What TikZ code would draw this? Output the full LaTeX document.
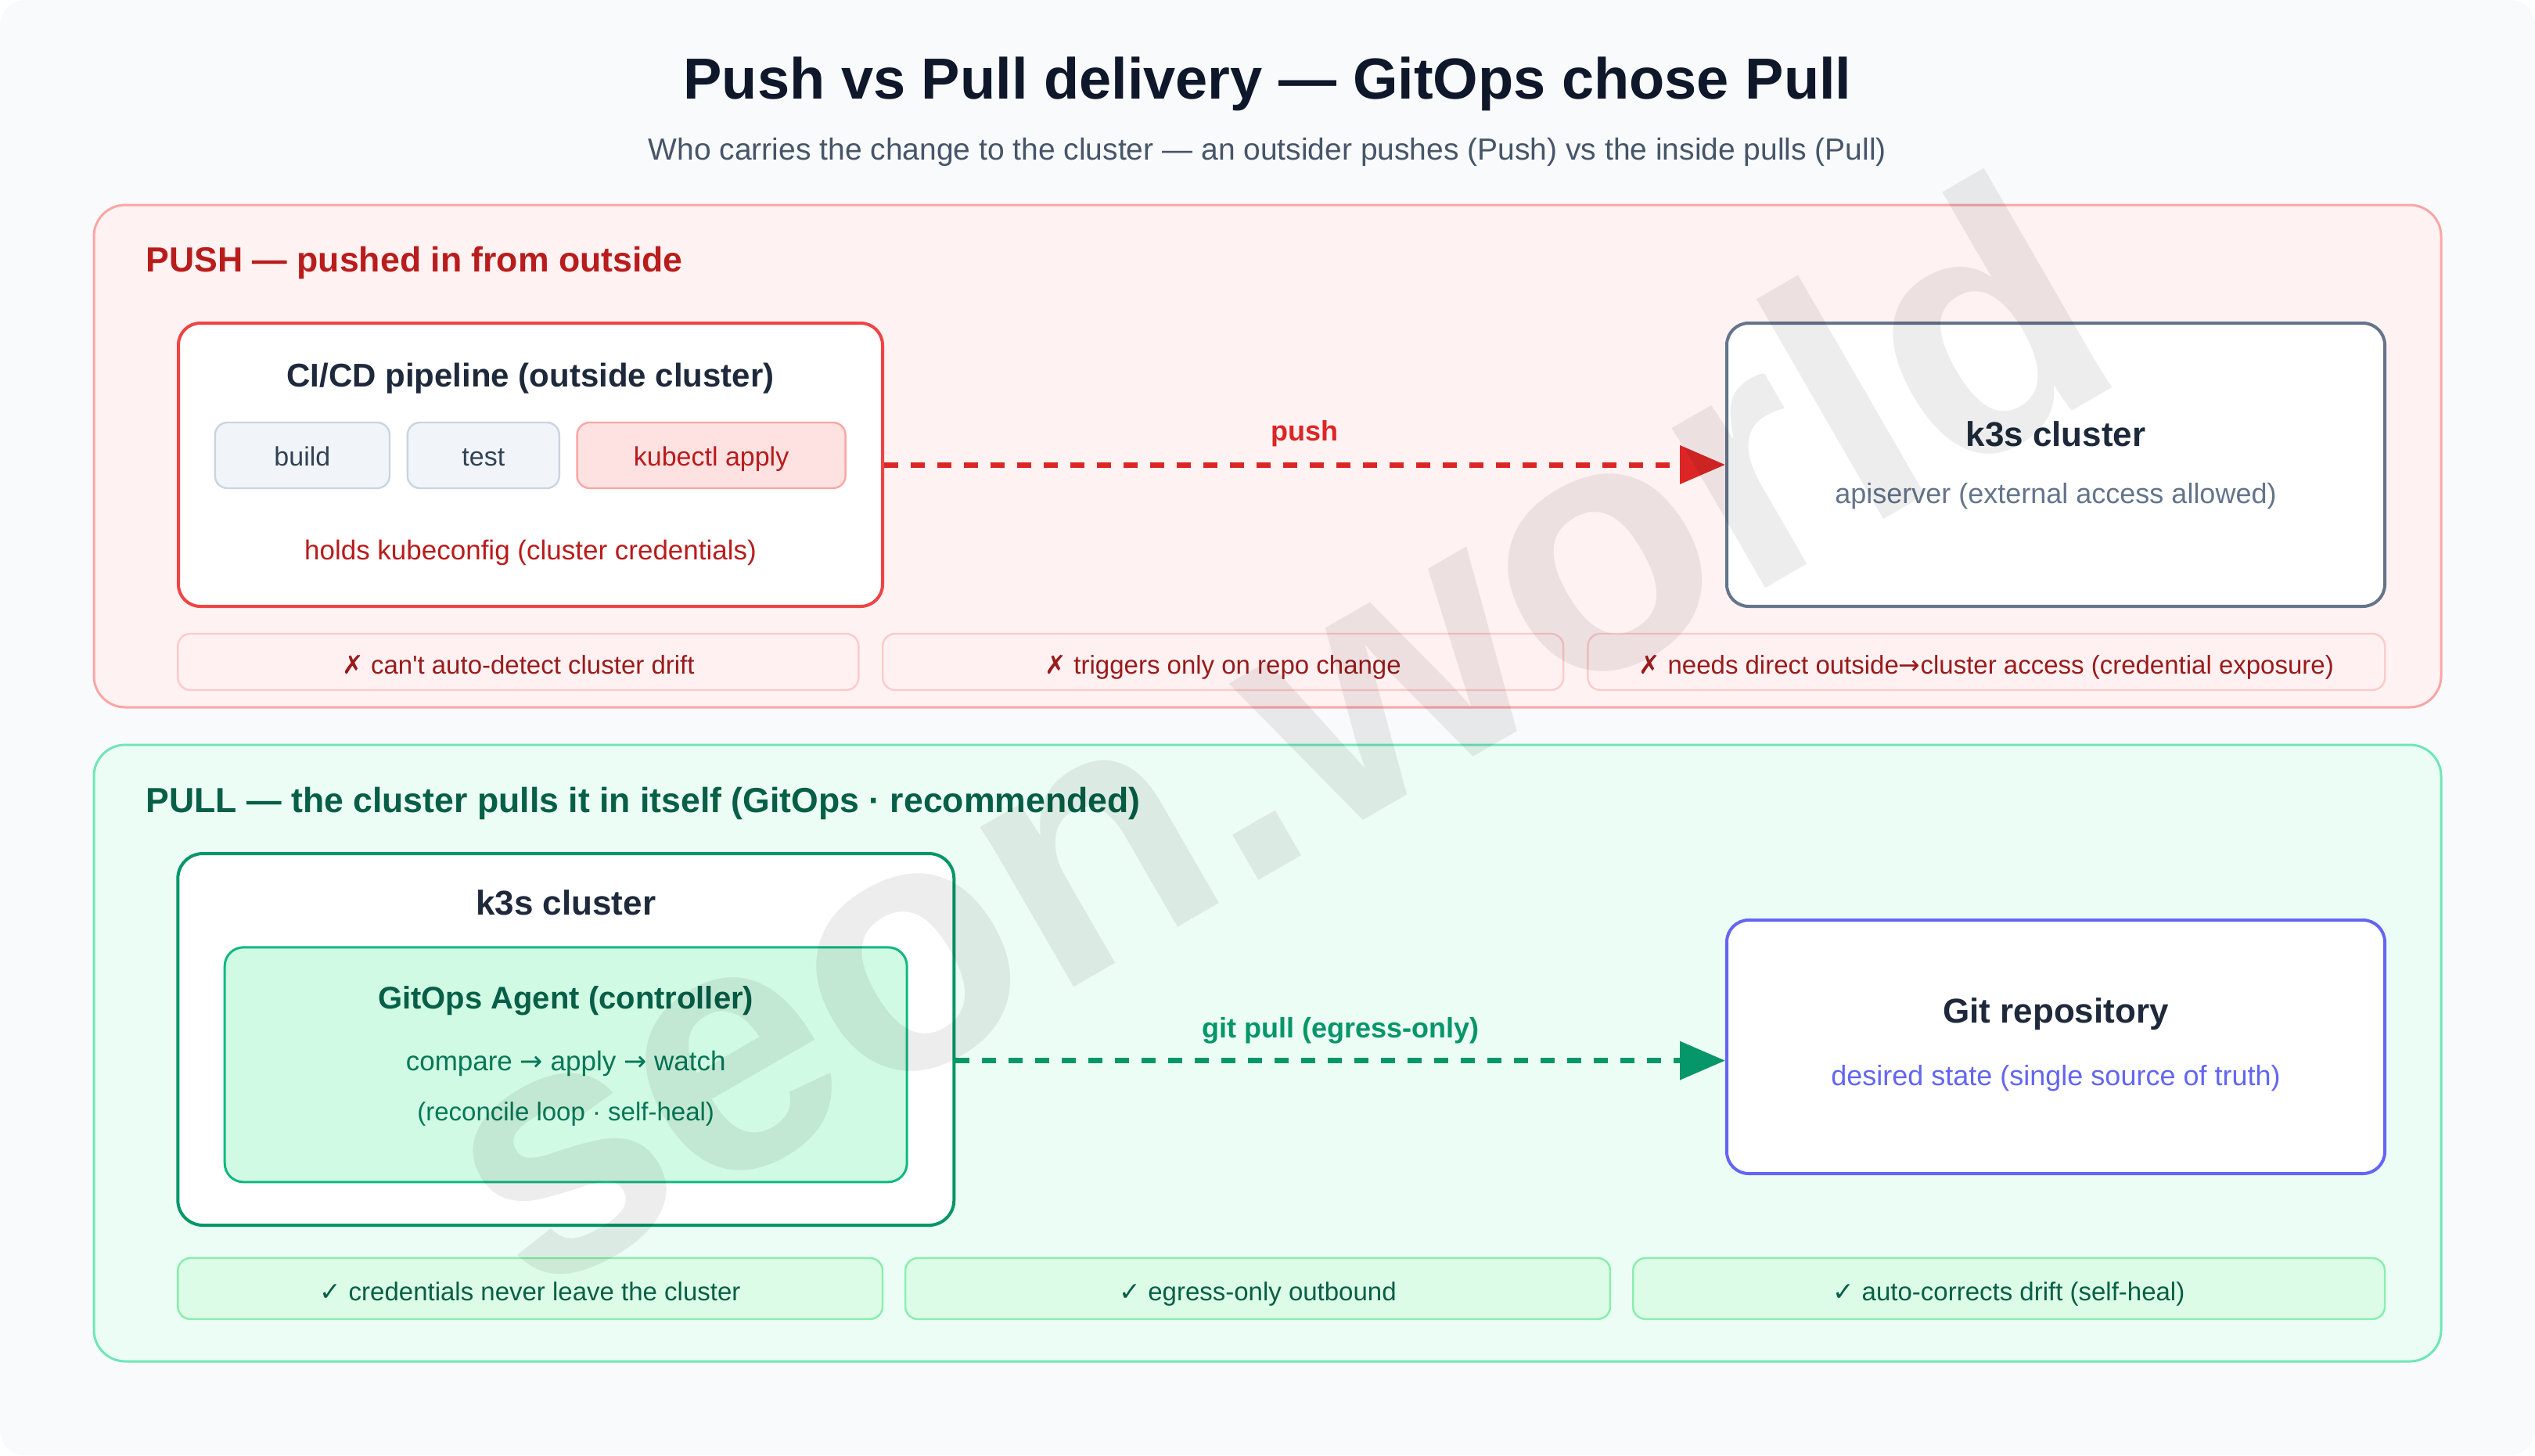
\documentclass[tikz,border=0pt]{standalone}
\usepackage{fontspec}
\setmainfont{Liberation Sans}[Ligatures=TeXOff]
\newfontfamily\glyphfont{DejaVu Sans}
\usepackage{tikz}
\usetikzlibrary{positioning,arrows.meta}
\definecolor{canvas}{HTML}{F8FAFC}
\definecolor{titleink}{HTML}{0F172A}
\definecolor{subink}{HTML}{475569}
\definecolor{ink}{HTML}{1E293B}
\definecolor{pushbg}{HTML}{FEF2F2}
\definecolor{pushline}{HTML}{FCA5A5}
\definecolor{pushhead}{HTML}{B91C1C}
\definecolor{cired}{HTML}{EF4444}
\definecolor{arrowred}{HTML}{DC2626}
\definecolor{stepfill}{HTML}{F1F5F9}
\definecolor{stepline}{HTML}{CBD5E1}
\definecolor{steptext}{HTML}{334155}
\definecolor{applyfill}{HTML}{FEE2E2}
\definecolor{k3sline}{HTML}{64748B}
\definecolor{nofill}{HTML}{FFF1F2}
\definecolor{noline}{HTML}{FECACA}
\definecolor{notext}{HTML}{991B1B}
\definecolor{pullbg}{HTML}{ECFDF5}
\definecolor{pullline}{HTML}{6EE7B7}
\definecolor{pullhead}{HTML}{065F46}
\definecolor{pullarrow}{HTML}{059669}
\definecolor{agentfill}{HTML}{D1FAE5}
\definecolor{agentline}{HTML}{10B981}
\definecolor{agenttext}{HTML}{047857}
\definecolor{gitline}{HTML}{6366F1}
\definecolor{okfill}{HTML}{DCFCE7}
\definecolor{okline}{HTML}{86EFAC}
\definecolor{oktext}{HTML}{065F46}
\newcommand{\fsz}[1]{\fontsize{#1}{#1}\selectfont}

\begin{document}
\begin{tikzpicture}[x=1pt, y=-1pt,
   panel/.style={draw, line width=1.5pt, rounded corners=20pt, inner sep=0pt},
   box/.style={draw, fill=white, line width=2pt, rounded corners=14pt, inner sep=0pt},
   stepbox/.style={draw=stepline, fill=stepfill, text=steptext, line width=1.2pt, outer sep=0pt,
                   rounded corners=8pt, minimum height=42pt, inner sep=0pt, font=\fsz{17},
                   text height=15pt, text depth=2pt},
   chip/.style={line width=1.2pt, rounded corners=8pt, inner sep=0pt, outer sep=0pt, font=\fsz{16.5},
                text height=18pt, text depth=3pt},
   head/.style={anchor=west, inner sep=0pt, font=\bfseries\fsz{22.3}},
   boxtitle/.style={inner sep=0pt, text=ink, font=\bfseries\fsz{22}},
   note/.style={inner sep=0pt, font=\fsz{18}},
   flowlabel/.style={inner sep=0pt, font=\bfseries\fsz{18}},
   flow/.style={line width=3.5pt, dash pattern=on 9pt off 8pt,
                -{Triangle[length=29pt,width=24pt]}}]
  \useasboundingbox (0,0) rectangle (1620,930);
  \fill[canvas, rounded corners=16pt] (0,0) rectangle (1620,930);

  \node[anchor=base, font=\bfseries\fsz{37}, text=titleink] (title) at (810,63)
    {Push vs Pull delivery — GitOps chose Pull};
  \node[anchor=base, font=\fsz{19.5}, text=subink] (subtitle) at (810,102)
    {Who carries the change to the cluster — an outsider pushes (Push) vs the inside pulls (Pull)};

  % push side
  \node[panel, fill=pushbg, draw=pushline, minimum width=1500pt, minimum height=321pt] (pushpanel) at (810,291.5) {};
  \node[head, text=pushhead] (pushhead) at (93,168) {PUSH — pushed in from outside};

  \node[box, draw=cired, minimum width=450pt, minimum height=181pt] (cicd) at (339,297) {};
  \node[boxtitle, font=\bfseries\fsz{21}] (cititle) at (339,242) {CI/CD pipeline (outside cluster)};
  \node[stepbox, minimum width=111.6pt] (build) at (193.2,291) {build};
  \node[stepbox, minimum width=97pt, right=11.4pt of build] (test) {test};
  \node[stepbox, minimum width=171.5pt, right=11.4pt of test,
        fill=applyfill, draw=pushline, text=pushhead] (apply) {kubectl apply};
  \node[note, text=pushhead, font=\fsz{17.5}] (creds) at (339,353) {holds kubeconfig (cluster credentials)};

  \node[box, draw=k3sline, minimum width=420.5pt, minimum height=181pt] (target) at (1313.75,297) {};
  \node[boxtitle] (targettitle) at (1313.75,277.5) {k3s cluster};
  \node[note, text=k3sline] (api) at (1313.75,317) {apiserver (external access allowed)};

  \draw[flow, color=arrowred] (cicd) -- node[flowlabel, above=10pt, text=arrowred] (pushlbl) {push} (target);

  \node[chip, fill=nofill, draw=noline, text=notext, minimum width=435pt, minimum height=36pt] (no1) at (331.2,423)
    {{\glyphfont ✗} can't auto-detect cluster drift};
  \node[chip, fill=nofill, draw=noline, text=notext, minimum width=435pt, minimum height=36pt, right=15.4pt of no1] (no2)
    {{\glyphfont ✗} triggers only on repo change};
  \node[chip, fill=nofill, draw=noline, text=notext, minimum width=509.4pt, minimum height=36pt, right=15.6pt of no2] (no3)
    {{\glyphfont ✗} needs direct outside{\glyphfont →}cluster access (credential exposure)};

  % pull side
  \node[panel, fill=pullbg, draw=pullline, minimum width=1500pt, minimum height=394pt] (pullpanel) at (810,673) {};
  \node[head, text=pullhead] (pullhead) at (93,513.5) {PULL — the cluster pulls it in itself (GitOps · recommended)};

  \node[box, draw=pullarrow, rounded corners=16pt, minimum width=496pt, minimum height=237.5pt] (cluster) at (361.65,664.25) {};
  \node[boxtitle] (clustertitle) at (361.65,577) {k3s cluster};
  \node[draw=agentline, fill=agentfill, line width=1.5pt, rounded corners=12pt, inner sep=0pt,
        minimum width=436pt, minimum height=150pt] (agent) at (361.6,680.4) {};
  \node[boxtitle, text=pullhead, font=\bfseries\fsz{20}] (agenttitle) at (361.6,639.5) {GitOps Agent (controller)};
  \node[note, text=agenttext, font=\fsz{17.5}] (loop) at (361.6,679.8)
    {compare {\glyphfont →} apply {\glyphfont →} watch};
  \node[note, text=agenttext, font=\fsz{16.5}] (heal) at (361.6,712) {(reconcile loop · self-heal)};
  \coordinate (pullrow) at (361.6,677.8);

  \node[box, draw=gitline, minimum width=420.5pt, minimum height=162pt] (repo) at (1313.75,669) {};
  \node[boxtitle] (repotitle) at (1313.75,648) {Git repository};
  \node[note, text=gitline] (truth) at (1313.75,689) {desired state (single source of truth)};

  \draw[flow, color=pullarrow] (cluster.east |- pullrow) -- node[flowlabel, above=9pt, text=pullarrow] (pulllbl)
    {git pull (egress-only)} (repo.west |- pullrow);

  \node[chip, fill=okfill, draw=okline, text=oktext, minimum width=450.3pt, minimum height=39pt] (ok1) at (338.85,823.5)
    {{\glyphfont ✓} credentials never leave the cluster};
  \node[chip, fill=okfill, draw=okline, text=oktext, minimum width=450.4pt, minimum height=39pt, right=14.6pt of ok1] (ok2)
    {{\glyphfont ✓} egress-only outbound};
  \node[chip, fill=okfill, draw=okline, text=oktext, minimum width=480.4pt, minimum height=39pt, right=14.6pt of ok2] (ok3)
    {{\glyphfont ✓} auto-corrects drift (self-heal)};

  % watermark
  \node[rotate=30, font=\bfseries\fsz{224}, text=black, text opacity=0.07] (mark) at (810.5,466.7) {seon.world};
\end{tikzpicture}
\end{document}
